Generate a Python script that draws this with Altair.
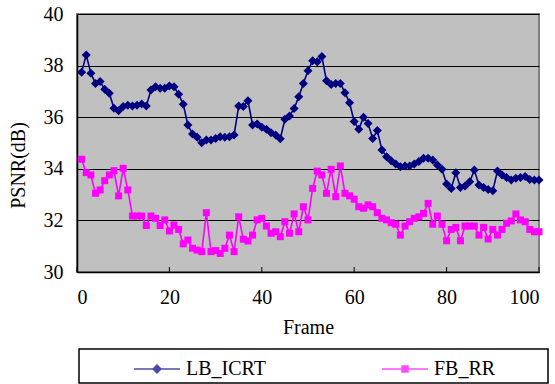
import altair as alt
import pandas as pd

frames = list(range(1, 101))
series_names = ["LB_ICRT", "FB_RR"]
series_colors = ["#000080", "#FF00FF"]

lb_icrt = [37.74, 38.41, 37.70, 37.31, 37.38, 37.08, 36.93, 36.35, 36.25, 36.41,
           36.46, 36.43, 36.46, 36.51, 36.43, 37.05, 37.18, 37.12, 37.12, 37.21,
           37.18, 36.89, 36.50, 35.70, 35.35, 35.22, 35.01, 35.12, 35.12, 35.17,
           35.24, 35.22, 35.24, 35.31, 36.43, 36.41, 36.64, 35.70, 35.74, 35.61,
           35.53, 35.40, 35.31, 35.16, 35.92, 36.05, 36.34, 36.79, 37.31, 37.80,
           38.19, 38.15, 38.35, 37.41, 37.27, 37.31, 37.31, 36.95, 36.56, 35.83,
           35.53, 36.00, 35.76, 35.17, 35.48, 34.73, 34.47, 34.31, 34.19, 34.08,
           34.11, 34.11, 34.19, 34.28, 34.41, 34.41, 34.34, 34.15, 33.98, 33.41,
           33.24, 33.85, 33.28, 33.33, 33.50, 33.95, 33.37, 33.28, 33.20, 33.15,
           33.91, 33.76, 33.66, 33.57, 33.63, 33.66, 33.70, 33.59, 33.57, 33.57]

fb_rr = [34.37, 33.85, 33.76, 33.05, 33.18, 33.54, 33.76, 33.93, 32.95, 34.02,
         33.18, 32.17, 32.17, 32.17, 31.80, 32.17, 32.08, 31.80, 32.02, 31.59,
         31.82, 31.65, 31.09, 31.24, 30.92, 30.85, 30.79, 32.30, 30.79, 30.83,
         30.72, 30.92, 31.43, 30.79, 32.14, 31.27, 31.20, 31.43, 32.02, 32.08,
         31.78, 31.50, 31.56, 31.37, 31.95, 31.50, 32.25, 31.56, 32.53, 32.02,
         33.24, 33.91, 33.76, 33.05, 33.98, 32.92, 34.11, 33.05, 32.95, 32.82,
         32.53, 32.47, 32.60, 32.53, 32.30, 32.08, 32.02, 31.91, 31.85, 31.43,
         31.78, 31.95, 32.08, 32.14, 32.27, 32.66, 31.85, 32.17, 31.85, 31.21,
         31.65, 31.73, 31.21, 31.78, 31.78, 31.78, 31.43, 31.73, 31.28, 31.65,
         31.43, 31.65, 31.89, 31.98, 32.25, 32.02, 31.95, 31.65, 31.56, 31.56]

x_ticks = [0, 20, 40, 60, 80, 100]
y_ticks = [30, 32, 34, 36, 38, 40]

df = pd.DataFrame({
    "frame": frames * 2,
    "psnr": lb_icrt + fb_rr,
    "series": [series_names[0]] * len(frames) + [series_names[1]] * len(frames),
})
ticks_df = pd.DataFrame({"frame": x_ticks})

FONT = "Liberation Serif"

xenc = alt.X("frame:Q", scale=alt.Scale(domain=[0, 100], nice=False),
             axis=alt.Axis(values=x_ticks, title="Frame", ticks=False, grid=False,
                           labelPadding=15, titleY=55, titleBaseline="middle",
                           domainColor="black", domainWidth=1.5))
yenc = alt.Y("psnr:Q", scale=alt.Scale(domain=[30, 40], nice=False, zero=False),
             axis=alt.Axis(values=y_ticks, title="PSNR(dB)", ticks=False, grid=True,
                           gridColor="black", gridWidth=1, labelPadding=14,
                           titleX=-59, titleY=151, titleAngle=-90, titleBaseline="middle",
                           titleAlign="center", domainColor="black", domainWidth=1.5))

color_scale = alt.Scale(domain=series_names, range=series_colors)

lines = alt.Chart(df).mark_line(strokeWidth=1.6).encode(
    x=xenc, y=yenc,
    color=alt.Color("series:N", scale=color_scale, legend=None),
    detail="series:N",
)

points = alt.Chart(df).mark_point(filled=True, opacity=1).encode(
    x="frame:Q", y="psnr:Q",
    color=alt.Color("series:N", scale=color_scale, legend=None),
    shape=alt.Shape("series:N", scale=alt.Scale(domain=series_names, range=["diamond", "square"]), legend=None),
    size=alt.Size("series:N", scale=alt.Scale(domain=series_names, range=[81, 49]), legend=None),
)

tick_marks = alt.Chart(ticks_df).mark_rule(color="black", strokeWidth=1).encode(
    x="frame:Q", y=alt.value(258), y2=alt.value(253)
)

legend_box = alt.Chart(pd.DataFrame({"k": [0]})).mark_rect(
    fill="white", stroke="black", strokeWidth=1.5
).encode(x=alt.value(2), x2=alt.value(471), y=alt.value(335), y2=alt.value(369))

diamond_path = ("M-1,0H1M0,-0.17L0.17,0L0,0.17L-0.17,0ZM0,-0.11L0.11,0L0,0.11L-0.11,0Z"
                "M0,-0.05L0.05,0L0,0.05L-0.05,0Z")
square_path = ("M-1,0H1M-0.13,-0.13H0.13V0.13H-0.13ZM-0.08,-0.08H0.08V0.08H-0.08Z"
               "M-0.03,-0.03H0.03V0.03H-0.03Z")

leg = alt.Legend(title=None, orient="none", legendX=56, legendY=331, direction="horizontal",
                 symbolSize=2116, symbolStrokeWidth=1.5, labelFont=FONT, labelFontSize=20,
                 labelColor="black", labelOffset=5, columnPadding=113, labelLimit=300,
                 padding=0)

legend_layer = alt.Chart(df).transform_filter("false").mark_point(filled=False, strokeWidth=1.5).encode(
    x="frame:Q", y="psnr:Q",
    color=alt.Color("series:N", scale=alt.Scale(domain=series_names, range=series_colors), legend=leg),
    shape=alt.Shape("series:N", scale=alt.Scale(domain=series_names, range=[diamond_path, square_path]), legend=leg),
)

chart = alt.layer(lines, points, tick_marks, legend_box, legend_layer).resolve_scale(
    shape="independent", color="independent"
).properties(
    width=462, height=258,
    autosize=alt.AutoSizeParams(type="none"),
    padding={"left": 77, "top": 14, "right": 16, "bottom": 112},
    background="white",
).configure_view(
    fill="#C0C0C0", stroke="#808080", strokeWidth=2
).configure_axis(
    labelFont=FONT, labelFontSize=20, labelColor="black",
    titleFont=FONT, titleFontSize=20, titleColor="black", titleFontWeight="normal",
).configure_legend(
    labelFont=FONT
)

chart.save("out.html", embed_options={"renderer": "svg", "actions": False})
